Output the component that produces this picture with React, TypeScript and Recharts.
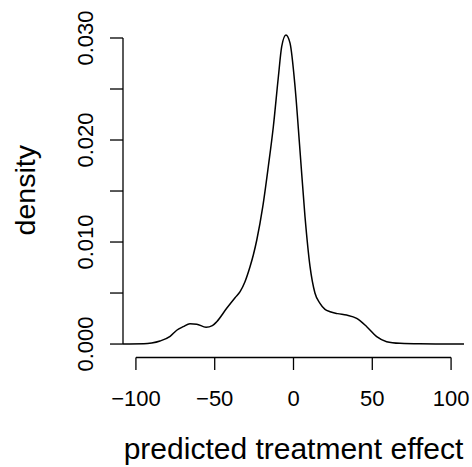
import { Label, Line, LineChart, ReferenceLine, XAxis, YAxis } from 'recharts';

// density estimate
const effectValues = [
  -108.2, -95, -90, -84.7, -78.3, -74.1, -70, -65.7, -61.4, -55.5, -51.5, -48.7, -42.4, -37.1, -33.9, -30.8,
  -27.6, -25.5, -23.3, -19.5, -16.0, -12.8, -9.6, -7.5, -4.8, -2.2, 1.0, 4.1, 7.3, 10.5, 13.6, 16.8, 20, 23.2,
  28, 33.7, 40.1, 46.5, 52.8, 59.1, 67.6, 80, 95, 108.2,
];
const densityValues = [
  0, 0.00002, 0.0001, 0.0003, 0.00075, 0.00135, 0.0017, 0.002, 0.00195, 0.00164, 0.0018, 0.00219, 0.0035,
  0.00454, 0.00513, 0.00611, 0.00758, 0.00873, 0.0102, 0.01346, 0.01738, 0.0213, 0.0262, 0.02915, 0.0303,
  0.0295, 0.0252, 0.019, 0.01248, 0.00758, 0.005, 0.00399, 0.0034, 0.00317, 0.00298, 0.00284, 0.00252, 0.0017,
  0.00072, 0.00023, 0.00007, 0.00002, 0.00001, 0,
];

const xTicks = [-100, -50, 0, 50, 100];
const yTicks = [0, 0.005, 0.01, 0.015, 0.02, 0.025, 0.03];
const yLabelTicks = [0, 0.01, 0.02, 0.03];

const xDomain: [number, number] = [-108.2, 108.2];
const yDomain: [number, number] = [-0.00132, 0.03147];

const data = effectValues.map((x, i) => ({ x, density: densityValues[i] }));

const INK = '#000000';

function YTick(props: any) {
  const { x, y, payload } = props;
  if (!yLabelTicks.includes(payload.value)) return null;
  return (
    <text x={x} y={y} transform={`rotate(-90, ${x}, ${y})`} textAnchor="middle" fontSize={22} fill={INK}>
      {payload.value.toFixed(3)}
    </text>
  );
}

export default function App() {
  return (
    <div style={{ position: 'absolute', left: 0, top: 0, fontFamily: '"Liberation Sans", Arial, Helvetica, sans-serif' }}>
      <LineChart width={472} height={467} data={data} margin={{ top: 23, right: 8, bottom: 0, left: 0 }}>
        <XAxis
          dataKey="x"
          type="number"
          domain={xDomain}
          ticks={xTicks}
          height={109.5}
          axisLine={false}
          tickSize={12.5}
          tickMargin={20}
          tickLine={{ stroke: INK, strokeWidth: 1.3 }}
          tick={{ fontSize: 22, fill: INK }}
          tickFormatter={(v: number) => (v < 0 ? `\u2212${Math.abs(v)}` : String(v))}
        >
          <Label value="predicted treatment effect" position="insideBottom" offset={8} fontSize={30} fill={INK} />
        </XAxis>
        <YAxis
          type="number"
          domain={yDomain}
          ticks={yTicks}
          width={123}
          axisLine={false}
          tickSize={13}
          tickMargin={16.5}
          tickLine={{ stroke: INK, strokeWidth: 1.3 }}
          tick={YTick}
        >
          <Label
            value="density"
            angle={-90}
            position="insideLeft"
            offset={25}
            fontSize={28.5}
            fill={INK}
            style={{ textAnchor: 'middle' }}
          />
        </YAxis>
        <ReferenceLine
          segment={[
            { x: xDomain[0], y: yTicks[0] },
            { x: xDomain[0], y: yTicks[yTicks.length - 1] },
          ]}
          stroke={INK}
          strokeWidth={1.3}
          ifOverflow="visible"
        />
        <ReferenceLine
          segment={[
            { x: xTicks[0], y: yDomain[0] },
            { x: xTicks[xTicks.length - 1], y: yDomain[0] },
          ]}
          stroke={INK}
          strokeWidth={1.3}
          ifOverflow="visible"
        />
        <Line
          type="monotone"
          dataKey="density"
          stroke={INK}
          strokeWidth={1.5}
          dot={false}
          activeDot={false}
          isAnimationActive={false}
        />
      </LineChart>
    </div>
  );
}
